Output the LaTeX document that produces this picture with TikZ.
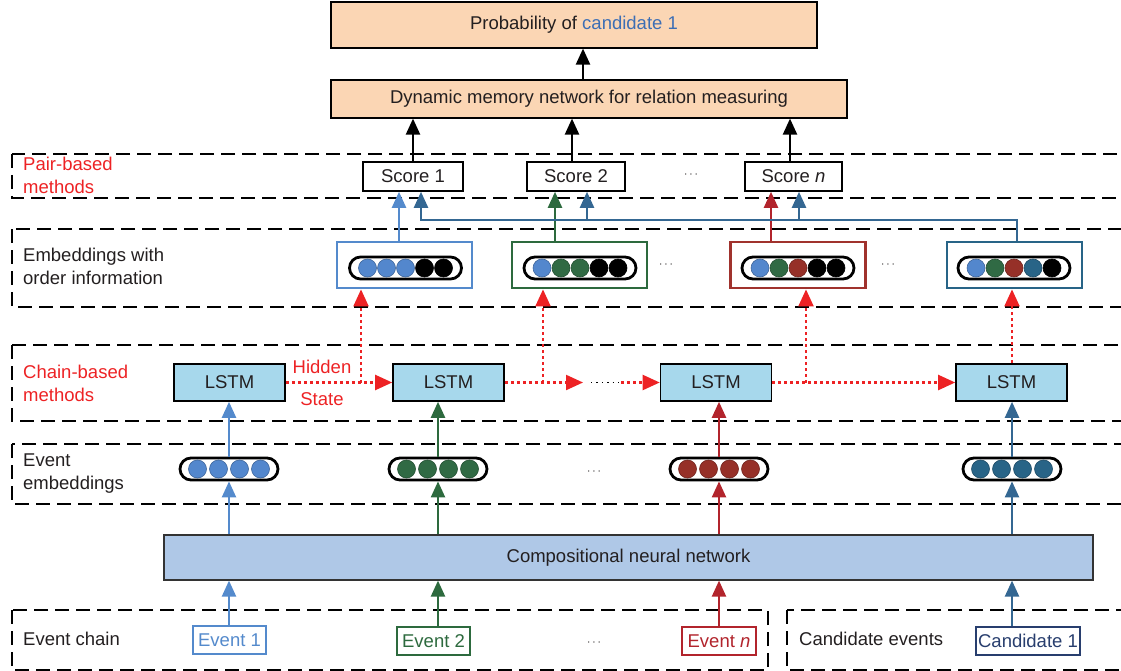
\documentclass[tikz,border=0pt]{standalone}
\usepackage{fontspec}
\setmainfont{Liberation Sans}
\usetikzlibrary{arrows.meta,calc}

\definecolor{txt}{RGB}{35,31,32}
\definecolor{cblue}{RGB}{84,138,204}
\definecolor{cgreen}{RGB}{45,106,62}
\definecolor{cred}{RGB}{178,36,44}
\definecolor{cmaroon}{RGB}{160,50,45}
\definecolor{cteal}{RGB}{52,103,146}
\definecolor{cnavy}{RGB}{40,62,110}
\definecolor{cand}{RGB}{60,110,180}
\definecolor{hot}{RGB}{237,34,36}
\definecolor{peach}{RGB}{251,214,180}
\definecolor{lstmfill}{RGB}{167,216,236}
\definecolor{cnnfill}{RGB}{175,200,231}
% bead colours
\definecolor{bb}{RGB}{83,135,205}
\definecolor{bg}{RGB}{48,106,68}
\definecolor{br}{RGB}{150,48,40}
\definecolor{bt}{RGB}{40,100,135}

\newcommand\fs{\fontsize{18.5}{23}\selectfont}
\newcommand\elide{{\fontsize{13}{13}\selectfont$\cdots$}}

% #1 name, #2 x, #3 y, #4 pill width, #5 bead count, #6 pitch, #7 bead colours
\newcommand\beads[7]{%
  \node[pill, minimum width=#4] (#1) at (#2,#3) {};
  \foreach \c [count=\i] in {#7}
    \filldraw[fill=\c, draw=\c!75!black, line width=0.6]
      ([xshift={(\i-(#5+1)/2)*#6}]#1.center) circle[radius=9];
}

\tikzset{
  peachbox/.style={draw=black, line width=1.2, fill=peach, inner sep=0, text=txt},
  scorebox/.style={draw=black, line width=1.6, fill=white, inner sep=0, minimum height=29},
  embbox/.style={line width=2.8, fill=white, inner sep=0, minimum width=135, minimum height=46},
  lstmbox/.style={draw=black, line width=1.6, fill=lstmfill, inner sep=0, minimum width=111, minimum height=37},
  pill/.style={draw=black, line width=2.8, fill=white, rounded corners=11, minimum height=22, inner sep=0},
  evbox/.style={line width=1.4, fill=white, inner sep=0, minimum height=28},
  cnnbox/.style={draw=black!80, line width=1.2, fill=cnnfill, inner sep=0, minimum width=929, minimum height=45},
  layer/.style={draw=black, line width=1.8, dash pattern=on 14pt off 7pt},
  arr/.style={line width=2.3, -{Triangle[width=14pt,length=16pt]}},
  hid/.style={hot, line width=2.2, dash pattern=on 3pt off 3pt, -{Triangle[width=15pt,length=17pt]}},
  lab/.style={anchor=west, align=left, inner sep=0, text=txt},
  ell/.style={inner sep=0, text=txt},
}

\begin{document}
\begin{tikzpicture}[x=1pt, y=-1pt, font=\fs, text=txt]
\clip (0,0) rectangle (1121,671);

% layer frames
\draw[layer] (12,154) rectangle (1140,198);
\draw[layer] (12,229) rectangle (1140,307);
\draw[layer] (12,345) rectangle (1140,421);
\draw[layer] (12,444) rectangle (1140,504);
\draw[layer] (12,610) rectangle (768,670);
\draw[layer] (787,610) rectangle (1140,670);

% layer labels
\node[lab, text=hot] (lpair) at (23,175) {Pair-based\\methods};
\node[lab] (lord) at (23,266.5) {Embeddings with\\order information};
\node[lab, text=hot] (lchain) at (23,383) {Chain-based\\methods};
\node[lab] (lev) at (23,474) {Event\\embeddings};
\node[lab] (lchainev) at (23,639) {Event chain};
\node[lab] (lcand) at (799,639) {Candidate events};

% column positions
\coordinate (c583) at (583,0);
\coordinate (c572) at (572,0);
\coordinate (c790) at (790,0);
\coordinate (c399) at (399,0);
\coordinate (c421) at (421,0);
\coordinate (c555) at (555,0);
\coordinate (c587) at (587,0);
\coordinate (c771) at (771,0);
\coordinate (c799) at (799,0);
\coordinate (c1017) at (1017,0);
\coordinate (c361) at (361,0);
\coordinate (c543) at (543,0);
\coordinate (c806) at (806,0);
\coordinate (c1012) at (1012,0);
\coordinate (c229) at (229,0);
\coordinate (c438) at (438,0);
\coordinate (c719) at (719,0);
\coordinate (bus) at (0,220);

% top blocks
\node[peachbox, minimum width=486, minimum height=46] (prob) at (574,25)
  {Probability of \textcolor{cand}{candidate 1}};
\node[peachbox, minimum width=516, minimum height=38] (dmn) at (589,99)
  {Dynamic memory network for relation measuring};
\draw[arr] (dmn.north -| c583) -- (prob.south -| c583);

% scores
\node[scorebox, minimum width=100] (s1) at (413,176.5) {Score 1};
\node[scorebox, minimum width=98] (s2) at (576,176.5) {Score 2};
\node[scorebox, minimum width=97] (sn) at (793.5,176.5) {Score \textit{n}};
\node[ell] (dots1) at (691,175) {\elide};
\draw[arr] (s1.north) -- (s1.north |- dmn.south);
\draw[arr] (s2.north -| c572) -- (dmn.south -| c572);
\draw[arr] (sn.north -| c790) -- (dmn.south -| c790);

% embeddings with order information
\node[embbox, draw=cblue] (e1) at (404.5,265) {};
\node[embbox, draw=cgreen] (e2) at (579.5,265) {};
\node[embbox, draw=cmaroon] (e3) at (798,265) {};
\node[embbox, draw=bt] (e4) at (1014.5,265) {};
\beads{pe1}{405.5}{268}{112}{5}{19}{bb,bb,bb,black,black}
\beads{pe2}{580}{268}{112}{5}{19}{bb,bg,bg,black,black}
\beads{pe3}{798}{268}{112}{5}{19}{bb,bg,br,black,black}
\beads{pe4}{1014}{268}{112}{5}{19}{bb,bg,br,bt,black}
\node[ell] (dots2) at (666,265) {\elide};
\node[ell] (dots3) at (888,265) {\elide};

% pair connections
\draw[arr, cblue] (e1.north -| c399) -- (s1.south -| c399);
\draw[arr, cgreen] (e2.north -| c555) -- (s2.south -| c555);
\draw[arr, cred] (e3.north -| c771) -- (sn.south -| c771);
\draw[arr, cteal] (e4.north -| c1017) |- (bus -| c421) -- (s1.south -| c421);
\draw[arr, cteal] (bus -| c587) -- (s2.south -| c587);
\draw[arr, cteal] (bus -| c799) -- (sn.south -| c799);

% LSTM chain
\node[lstmbox] (l1) at (229.5,382.5) {LSTM};
\node[lstmbox] (l2) at (448.5,382.5) {LSTM};
\node[lstmbox] (l3) at (716,382.5) {LSTM};
\node[lstmbox] (l4) at (1011.5,382.5) {LSTM};
\node[text=hot, inner sep=0] (hidt) at (322,367) {Hidden};
\node[text=hot, inner sep=0] (stat) at (322,399) {State};
\coordinate (hA) at (583,382.5);
\coordinate (hB) at (591,382.5);
\coordinate (hC) at (621,382.5);

\draw[hid] (l1.east) -- (l2.west);
\draw[hid] (l1.east -| c361) -- (e1.south -| c361);
\draw[hid] (l2.east) -- (hA);
\draw[black, line width=1.4, dash pattern=on 1.4pt off 4pt] (hB) -- (hC);
\draw[hid] (hC) -- (l3.west);
\draw[hid] (l2.east -| c543) -- (e2.south -| c543);
\draw[hid] (l3.east) -- (l4.west);
\draw[hid] (l3.east -| c806) -- (e3.south -| c806);
\draw[hid] (l4.north -| c1012) -- (e4.south -| c1012);

% event embeddings
\beads{p1}{229}{469}{98}{4}{21}{bb,bb,bb,bb}
\beads{p2}{438}{469}{98}{4}{21}{bg,bg,bg,bg}
\beads{p3}{719}{469}{98}{4}{21}{br,br,br,br}
\beads{p4}{1012}{469}{98}{4}{21}{bt,bt,bt,bt}
\node[ell] (dots4) at (594,472) {\elide};
\draw[arr, cblue] (p1.north) -- (p1.north |- l1.south);
\draw[arr, cgreen] (p2.north) -- (p2.north |- l2.south);
\draw[arr, cred] (p3.north) -- (p3.north |- l3.south);
\draw[arr, cteal] (p4.north) -- (p4.north |- l4.south);

% compositional network
\node[cnnbox] (cnn) at (628.5,557.5) {Compositional neural network};
\draw[arr, cblue] (cnn.north -| p1) -- (p1.south);
\draw[arr, cgreen] (cnn.north -| p2) -- (p2.south);
\draw[arr, cred] (cnn.north -| p3) -- (p3.south);
\draw[arr, cteal] (cnn.north -| p4) -- (p4.south);

% events
\node[evbox, draw=cblue, text=cblue, minimum width=73] (ev1) at (229.5,640) {Event 1};
\node[evbox, draw=cgreen, text=cgreen, minimum width=73] (ev2) at (433.5,641) {Event 2};
\node[evbox, draw=cred, text=cred, minimum width=74] (evn) at (719,641) {Event \textit{n}};
\node[evbox, draw=cnavy, text=cnavy, minimum width=104] (cd1) at (1028,641) {Candidate 1};
\node[ell] (dots5) at (594,643) {\elide};
\draw[arr, cblue] (ev1.north -| c229) -- (cnn.south -| c229);
\draw[arr, cgreen] (ev2.north -| c438) -- (cnn.south -| c438);
\draw[arr, cred] (evn.north -| c719) -- (cnn.south -| c719);
\draw[arr, cteal] (cd1.north -| c1012) -- (cnn.south -| c1012);
\end{tikzpicture}
\end{document}
